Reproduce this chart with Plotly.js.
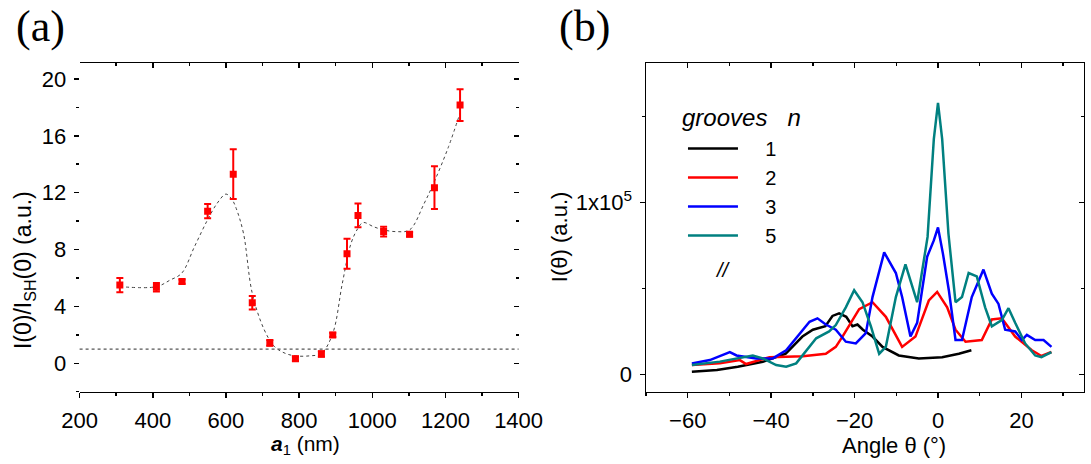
<!DOCTYPE html>
<html>
<head>
<meta charset="utf-8">
<script src="https://cdn.plot.ly/plotly-3.0.1.min.js"></script>
<style>html,body{margin:0;padding:0;background:#fff;}#chart{width:1091px;height:464px;}</style>
</head>
<body>
<div id="chart"></div>
<script>
// ---------- Panel (a) data ----------
const a1_nm     = [310, 410, 480, 550, 620, 672, 720, 790, 861, 892, 931, 961, 1031, 1102, 1170, 1240];
const ratio     = [5.5, 5.34, 5.75, 10.7, 13.3, 4.26, 1.43, 0.32, 0.65, 1.99, 7.7, 10.4, 9.26, 9.07, 12.35, 18.16];
const ratio_err = [0.5, 0.3, 0.15, 0.5, 1.75, 0.47, 0.2, 0.15, 0.2, 0.15, 1.05, 0.83, 0.35, 0.15, 1.5, 1.12];
// dashed guide curve
const fit_a1    = [310, 410, 448, 479, 514, 550, 576, 600, 617, 628, 648, 672, 705, 733, 762, 790, 828, 861, 892, 918, 942, 961, 975, 1004, 1031, 1066, 1102, 1142, 1170, 1208, 1240];
const fit_ratio = [5.39, 5.39, 5.86, 6.33, 8.2, 10.1, 11.25, 11.9, 11.5, 10.9, 9.14, 4.92, 2.34, 1.17, 0.7, 0.52, 0.52, 0.7, 2.1, 5.6, 8.44, 9.5, 9.9, 9.6, 9.38, 9.26, 9.38, 11.25, 12.8, 15.2, 17.6];
const ref_level = 1;

// ---------- Panel (b) data ----------
const ang_n1 = [-59, -53, -48, -42, -36.5, -32.5, -30, -27, -25.3, -23.7, -22, -20.5, -19.3, -18, -15.7, -13.3, -9.4, -4.6, 1, 5, 8];
const I_n1   = [1500, 2500, 4400, 7300, 12000, 22000, 26000, 28000, 34000, 35500, 33500, 28000, 29000, 26000, 22000, 16000, 11000, 9300, 10000, 12000, 14000];

const ang_n2 = [-59, -52.3, -47.5, -46, -40.4, -32.4, -26.9, -24.5, -22.9, -20.9, -18.9, -15.7, -12.5, -8.6, -5.4, -2.2, -0.2, 2.2, 4.2, 6.6, 10.5, 12.9, 15.3, 18.5, 22.5, 24.8, 27.2];
const I_n2   = [5400, 6400, 8300, 6000, 10000, 10600, 12000, 16000, 22000, 30000, 38000, 42000, 33500, 16000, 22000, 43000, 48000, 39000, 26000, 19000, 20000, 32000, 32600, 22000, 14000, 10700, 13000];

const ang_n3 = [-59, -54.7, -49.9, -48.3, -43.6, -39.6, -36.4, -32.4, -30.8, -28.9, -26.9, -24.5, -22.1, -19.7, -17.3, -15.7, -12.9, -10.1, -8.6, -6.6, -5, -2.6, -1, 0, 1.2, 2.6, 4.2, 5.75, 8.1, 10.9, 12.9, 14.5, 16.1, 18.5, 20.1, 21.3, 23.3, 25.3, 27.2];
const I_n3   = [6300, 8300, 13000, 11000, 9300, 9300, 14000, 26000, 30600, 32600, 29000, 26000, 19000, 18000, 24000, 45000, 71000, 59000, 45000, 22000, 30000, 68500, 78000, 85500, 70000, 49000, 20000, 20000, 45000, 61000, 47000, 41000, 26000, 25000, 20000, 23000, 20000, 20000, 16000];

const ang_n5 = [-59, -52.3, -44.4, -42, -38.8, -36.4, -34, -31.6, -29.2, -26.1, -24.5, -22.1, -20.1, -18.1, -16.1, -14.1, -12.5, -10.1, -7.8, -5, -2.5, -1, 0, 1, 2.5, 4.2, 5.75, 7.35, 9.3, 11.3, 12.9, 15.3, 16.9, 18.5, 20.9, 23.3, 24.8, 27.2];
const I_n5   = [5400, 7400, 11000, 9300, 5400, 4400, 6400, 14000, 21000, 25000, 28700, 39000, 49000, 42000, 28000, 12000, 16000, 45000, 64000, 42000, 80000, 137000, 158000, 137000, 82000, 42000, 45000, 59000, 57000, 39000, 28000, 31600, 38500, 30000, 18000, 11000, 10000, 13000];

const groove_labels = ['1', '2', '3', '5'];
const groove_colors = ['#000000', '#ff0000', '#0000ff', '#008080'];

// tick labels
const yb_tickvals = [0, 100000];
const yb_ticktext = ['0', '1x10<sup>5</sup>'];

const FONT = 'Liberation Sans, Arial, sans-serif';
const pad = '\u00a0\u00a0\u00a0\u00a0';

const traces = [
  {x: fit_a1, y: fit_ratio, mode: 'lines', line: {shape: 'spline', smoothing: 1, color: '#444', width: 1, dash: '3px,3px'},
   xaxis: 'x', yaxis: 'y', showlegend: false, hoverinfo: 'skip'},
  {x: a1_nm, y: ratio, mode: 'markers', marker: {symbol: 'square', size: 7, color: '#ff0000'},
   error_y: {type: 'data', array: ratio_err, visible: true, color: '#ff0000', thickness: 2, width: 3.5},
   xaxis: 'x', yaxis: 'y', showlegend: false},
  {x: [], y: [], xaxis: 'x3', yaxis: 'y', showlegend: false, hoverinfo: 'skip'},
  {x: [], y: [], xaxis: 'x', yaxis: 'y3', showlegend: false, hoverinfo: 'skip'},
  {x: [], y: [], xaxis: 'x4', yaxis: 'y2', showlegend: false, hoverinfo: 'skip'},
  {x: [], y: [], xaxis: 'x2', yaxis: 'y4', showlegend: false, hoverinfo: 'skip'}
];
const angs = [ang_n1, ang_n2, ang_n3, ang_n5];
const Is = [I_n1, I_n2, I_n3, I_n5];
for (let i = 0; i < 4; i++) {
  traces.push({x: angs[i], y: Is[i], mode: 'lines', name: pad + groove_labels[i],
    line: {color: groove_colors[i], width: 2.5}, xaxis: 'x2', yaxis: 'y2'});
}

const tickCommon = {ticklen: 5, tickwidth: 1.5, tickcolor: '#000', showgrid: false, zeroline: false};
const minorOut = {ticks: 'outside', ticklen: 3, tickwidth: 1.5, tickcolor: '#000'};
const minorIn = {ticks: 'inside', ticklen: 3, tickwidth: 1.5, tickcolor: '#000'};
const mainLine = {showline: true, mirror: true, linewidth: 1.5, linecolor: '#000'};
const dY = [0.15582, 0.86358];

const layout = {
  width: 1091, height: 464,
  margin: {l: 0, r: 0, t: 0, b: 0},
  paper_bgcolor: '#fff', plot_bgcolor: '#fff',
  font: {family: FONT, size: 22, color: '#000'},
  showlegend: true,
  legend: {x: 0.626, y: 0.722, xanchor: 'left', yanchor: 'top', bgcolor: 'rgba(0,0,0,0)',
           font: {family: FONT, size: 20, color: '#000'}, itemwidth: 50, tracegroupgap: 0},
  xaxis: Object.assign({domain: [0.07296, 0.47534], range: [200, 1400], tick0: 200, dtick: 200, ticks: 'outside',
          minor: Object.assign({dtick: 100}, minorOut), anchor: 'y', tickfont: {size: 22}, ticklabelstandoff: 3}, tickCommon, mainLine),
  yaxis: Object.assign({domain: dY, range: [-2, 21.1], tick0: 0, dtick: 4, ticks: 'outside',
          minor: Object.assign({dtick: 2}, minorOut), anchor: 'x', tickfont: {size: 22}, ticklabelstandoff: 3}, tickCommon),
  xaxis3: Object.assign({overlaying: 'x', side: 'top', anchor: 'y', range: [200, 1400], tick0: 200, dtick: 200, ticks: 'inside',
          minor: Object.assign({dtick: 100}, minorIn), showticklabels: false, showline: false}, tickCommon),
  yaxis3: Object.assign({overlaying: 'y', side: 'right', anchor: 'x', range: [-2, 21.1], tick0: 0, dtick: 4, ticks: 'inside',
          minor: Object.assign({dtick: 2}, minorIn), showticklabels: false, showline: false}, tickCommon),
  xaxis2: Object.assign({domain: [0.59212, 0.99358], range: [-70, 35], tick0: 0, dtick: 20, ticks: 'outside',
          minor: Object.assign({dtick: 10}, minorOut), anchor: 'y2', tickfont: {size: 22}, ticklabelstandoff: 3}, tickCommon, mainLine),
  yaxis2: Object.assign({domain: dY, range: [-10100, 181100], tickmode: 'array', tickvals: yb_tickvals, ticktext: yb_ticktext, ticks: 'outside',
          minor: Object.assign({tickvals: [50000, 150000]}, minorOut), anchor: 'x2', tickfont: {size: 22}, ticklabelstandoff: 3}, tickCommon, mainLine),
  xaxis4: Object.assign({overlaying: 'x2', side: 'top', anchor: 'y2', range: [-70, 35], tick0: 0, dtick: 20, ticks: 'inside',
          minor: Object.assign({dtick: 10}, minorIn), showticklabels: false, showline: false}, tickCommon),
  yaxis4: Object.assign({overlaying: 'y2', side: 'right', anchor: 'x2', range: [-10100, 181100], tickmode: 'array', tickvals: yb_tickvals, ticks: 'inside',
          minor: Object.assign({tickvals: [50000, 150000]}, minorIn), showticklabels: false, showline: false}, tickCommon),
  shapes: [
    {type: 'line', xref: 'x domain', yref: 'y', x0: 0, x1: 1, y0: ref_level, y1: ref_level,
     line: {color: '#555', width: 1.2, dash: 'dot'}}
  ],
  annotations: [
    {text: '(a)', xref: 'paper', yref: 'paper', x: 0.0367, y: 0.942, showarrow: false, xanchor: 'center', yanchor: 'middle',
     font: {family: 'Liberation Serif, Times New Roman, serif', size: 44}},
    {text: '(b)', xref: 'paper', yref: 'paper', x: 0.5353, y: 0.942, showarrow: false, xanchor: 'center', yanchor: 'middle',
     font: {family: 'Liberation Serif, Times New Roman, serif', size: 44}},
    {text: '<b><i>a</i></b><sub>1</sub> (nm)', xref: 'paper', yref: 'paper', x: 0.2796, y: 0.04, showarrow: false,
     xanchor: 'center', yanchor: 'middle', font: {size: 21}},
    {text: 'I(0)/I<sub>SH</sub>(0)\u00a0(a.u.)', xref: 'paper', yref: 'paper', x: 0.022, y: 0.418, showarrow: false,
     xanchor: 'center', yanchor: 'middle', textangle: -90, font: {size: 23}},
    {text: 'Angle θ (°)', xref: 'paper', yref: 'paper', x: 0.8194, y: 0.04, showarrow: false,
     xanchor: 'center', yanchor: 'middle', font: {size: 22}},
    {text: 'I(θ) (a.u.)', xref: 'paper', yref: 'paper', x: 0.5124, y: 0.489, showarrow: false,
     xanchor: 'center', yanchor: 'middle', textangle: -90, font: {size: 22}},
    {text: '<i>grooves\u00a0\u00a0\u00a0n</i>', xref: 'paper', yref: 'paper', x: 0.6233, y: 0.7478, showarrow: false,
     xanchor: 'left', yanchor: 'middle', font: {size: 24}},
    {text: '<i>//</i>', xref: 'paper', yref: 'paper', x: 0.6627, y: 0.418, showarrow: false,
     xanchor: 'center', yanchor: 'middle', font: {size: 20}}
  ]
};

Plotly.newPlot('chart', traces, layout, {displayModeBar: false, staticPlot: true});
</script>
</body>
</html>
